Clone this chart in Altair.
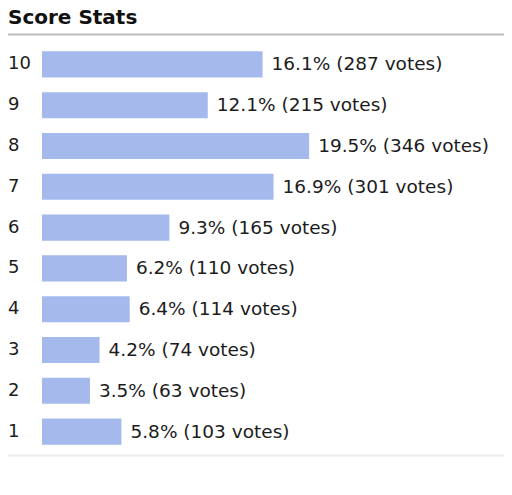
import altair as alt
import pandas as pd

scores = [10, 9, 8, 7, 6, 5, 4, 3, 2, 1]
percents = [16.1, 12.1, 19.5, 16.9, 9.3, 6.2, 6.4, 4.2, 3.5, 5.8]
votes = [287, 215, 346, 301, 165, 110, 114, 74, 63, 103]
title_text = "Score Stats"

df = pd.DataFrame({
    "score": scores,
    "pct": percents,
    "votes": votes,
})
df["label"] = [f"{p}% ({v} votes)" for p, v in zip(percents, votes)]
df["score_label"] = [str(s) for s in scores]

FONT = "DejaVu Sans"
TEXT_COLOR = "#1c1c1c"
W = 462
H = 408

y_enc = alt.Y("score:O", sort=scores, axis=None,
              scale=alt.Scale(paddingInner=0.36, paddingOuter=0.18))
x_scale = alt.Scale(domain=[0, W / 13.7], nice=False, zero=True)

base = alt.Chart(df)

bars = base.mark_bar(color="#a5b9ec", cornerRadius=0).encode(
    x=alt.X("pct:Q", scale=x_scale, axis=None),
    y=y_enc,
)

values = base.mark_text(align="left", baseline="middle", dx=9, font=FONT,
                        fontSize=18.5, color=TEXT_COLOR).encode(
    x=alt.X("pct:Q", scale=x_scale, axis=None),
    y=y_enc,
    text="label:N",
)

score_labels = base.mark_text(align="left", baseline="middle", font=FONT,
                              fontSize=18, color=TEXT_COLOR).encode(
    x=alt.value(-34),
    y=y_enc,
    text="score_label:N",
)

one = alt.Chart(pd.DataFrame({"t": [title_text]}))

title = one.mark_text(align="left", baseline="alphabetic", font=FONT,
                      fontSize=20, fontWeight="bold", color="#111111").encode(
    x=alt.value(-34), y=alt.value(-20), text="t:N"
)

top_rule = one.mark_rule(color="#bdbdbd", strokeWidth=2).encode(
    x=alt.value(-34), x2=alt.value(W), y=alt.value(-9.5)
)
bottom_rule = one.mark_rule(color="#ececec", strokeWidth=2).encode(
    x=alt.value(-34), x2=alt.value(W), y=alt.value(411.5)
)

chart = alt.layer(bars, values, score_labels, title, top_rule, bottom_rule).properties(
    width=W,
    height=H,
    autosize=alt.AutoSizeParams(type="none"),
    padding={"left": 34, "top": 36, "right": 0, "bottom": 20},
    background="white",
).configure(view=alt.ViewConfig(stroke="transparent", strokeWidth=0))

chart.save("out.html", embed_options={"renderer": "svg", "actions": False})
